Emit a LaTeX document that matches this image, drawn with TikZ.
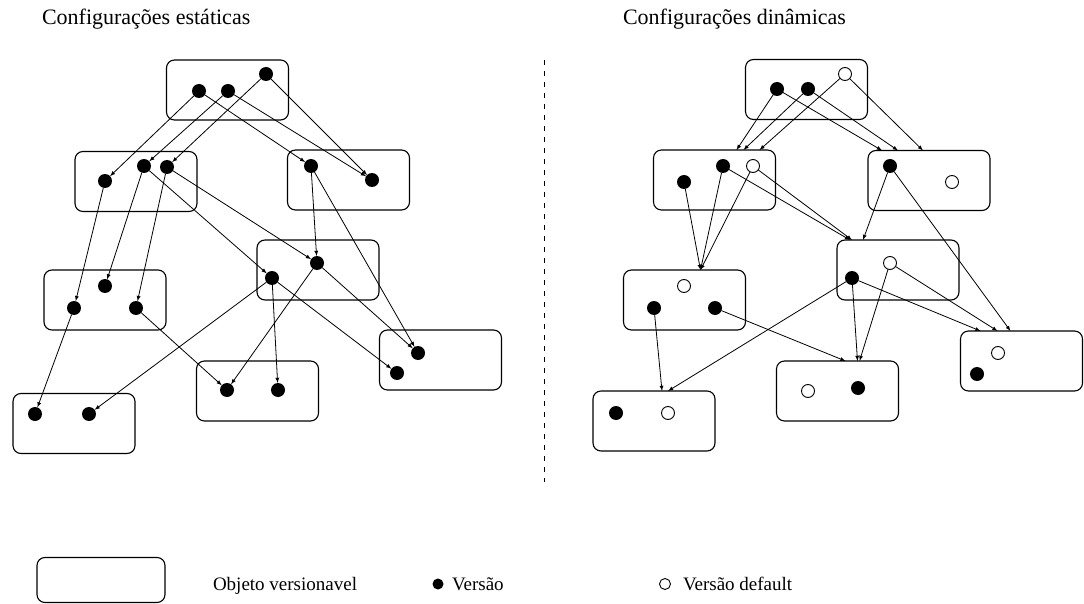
\documentclass[tikz,border=0pt]{standalone}
\usepackage{fontspec}
\setmainfont{Liberation Serif}
\begin{document}
\begin{tikzpicture}[x=1pt, y=-1pt]
\tikzset{ >=latex, inner sep=0pt, outer sep=0pt,
  obj/.style={draw, line width=1.1pt, rounded corners=8pt, minimum width=122pt, minimum height=60pt},
  ver/.style={fill=black, circle, minimum size=14pt},
  vdef/.style={draw, line width=0.9pt, fill=white, circle, minimum size=13pt},
  lnk/.style={->, line width=0.8pt},
  txt/.style={font=\fontsize{19}{23}\selectfont, anchor=base west},
  ttl/.style={font=\fontsize{22}{26}\selectfont, anchor=base west},
}
\useasboundingbox (0,0) rectangle (1084,604);

\node [ttl] (tEst) at (42,25)  {Configurações estáticas};
\node [ttl] (tDin) at (623,25) {Configurações dinâmicas};

\draw [line width=0.8pt, dash pattern=on 5pt off 6pt] (544,60) -- (544,482);

% estaticas
\node [obj] (L1) at (227.5,90)  {};
\node [obj] (L2) at (136,181.5) {};
\node [obj] (L3) at (348.5,180) {};
\node [obj] (L4) at (318,270)   {};
\node [obj] (L5) at (105,300)   {};
\node [obj] (L6) at (74,423.5)  {};
\node [obj] (L7) at (257.5,391) {};
\node [obj] (L8) at (440.5,360) {};

\node [ver] (L1a) at (199,91)  {};
\node [ver] (L1b) at (228,91)  {};
\node [ver] (L1c) at (266,74)  {};
\node [ver] (L2a) at (105,181) {};
\node [ver] (L2b) at (144,166) {};
\node [ver] (L2c) at (167,167) {};
\node [ver] (L3a) at (311,166) {};
\node [ver] (L3b) at (372,180) {};
\node [ver] (L4a) at (272,278) {};
\node [ver] (L4b) at (317,263) {};
\node [ver] (L5a) at (74,308)  {};
\node [ver] (L5b) at (105,286) {};
\node [ver] (L5c) at (136,308) {};
\node [ver] (L6a) at (35,414)  {};
\node [ver] (L6b) at (89,414)  {};
\node [ver] (L7a) at (227,390) {};
\node [ver] (L7b) at (278,390) {};
\node [ver] (L8a) at (418,353) {};
\node [ver] (L8b) at (397,373) {};

\draw [lnk] (L1a) -- (L2a);
\draw [lnk] (L1a) -- (L3a);
\draw [lnk] (L1b) -- (L2b);
\draw [lnk] (L1b) -- (L3b);
\draw [lnk] (L1c) -- (L2c);
\draw [lnk] (L1c) -- (L3b);
\draw [lnk] (L2a) -- (L5a);
\draw [lnk] (L2b) -- (L5b);
\draw [lnk] (L2b) -- (L4a);
\draw [lnk] (L2c) -- (L5c);
\draw [lnk] (L2c) -- (L4b);
\draw [lnk] (L3a) -- (L4b);
\draw [lnk] (L3a) -- (L8a);
\draw [lnk] (L4a) -- (L7b);
\draw [lnk] (L4a) -- (L8b);
\draw [lnk] (L4a) -- (L6b);
\draw [lnk] (L4b) -- (L7a);
\draw [lnk] (L4b) -- (L8a);
\draw [lnk] (L5a) -- (L6a);
\draw [lnk] (L5c) -- (L7a);

% dinamicas
\node [obj] (R1) at (806.5,89.5) {};
\node [obj] (R2) at (714.5,180)  {};
\node [obj] (R3) at (929,180.5)  {};
\node [obj] (R4) at (898,270)    {};
\node [obj] (R5) at (684.5,300)  {};
\node [obj] (R6) at (654,421)    {};
\node [obj] (R7) at (837.5,391)  {};
\node [obj] (R8) at (1021.5,361) {};

\node [ver]  (R1a) at (777,89)  {};
\node [ver]  (R1b) at (808,89)  {};
\node [vdef] (R1c) at (845,74)  {};
\node [ver]  (R2a) at (684,182) {};
\node [ver]  (R2b) at (723,166) {};
\node [vdef] (R2c) at (753,166) {};
\node [ver]  (R3a) at (890,166) {};
\node [vdef] (R3b) at (952,182) {};
\node [ver]  (R4a) at (852,278) {};
\node [vdef] (R4b) at (890,263) {};
\node [ver]  (R5a) at (654,308) {};
\node [vdef] (R5b) at (684,286) {};
\node [ver]  (R5c) at (715,308) {};
\node [ver]  (R6a) at (616,413) {};
\node [vdef] (R6b) at (668,413) {};
\node [vdef] (R7a) at (808,391) {};
\node [ver]  (R7b) at (858,388) {};
\node [vdef] (R8a) at (998,353) {};
\node [ver]  (R8b) at (977,374) {};

\draw [lnk] (R1a) -- ([xshift=22pt]R2.north);
\draw [lnk] (R1b) -- ([xshift=29pt]R2.north);
\draw [lnk] (R1c) -- ([xshift=45pt]R2.north);
\draw [lnk] (R1a) -- ([xshift=-47pt]R3.north);
\draw [lnk] (R1b) -- ([xshift=-31pt]R3.north);
\draw [lnk] (R1c) -- ([xshift=-6pt]R3.north);
\draw [lnk] (R2a) -- ([xshift=16pt]R5.north);
\draw [lnk] (R2b) -- ([xshift=16pt]R5.north);
\draw [lnk] (R2c) -- ([xshift=16pt]R5.north);
\draw [lnk] (R2b) -- ([xshift=-48pt]R4.north);
\draw [lnk] (R2c) -- ([xshift=-46pt]R4.north);
\draw [lnk] (R3a) -- ([xshift=-35pt]R4.north);
\draw [lnk] (R3a) -- ([xshift=-11pt]R8.north);
\draw [lnk] (R4a) -- ([xshift=-41pt]R8.north);
\draw [lnk] (R4b) -- ([xshift=-24pt]R8.north);
\draw [lnk] (R4a) -- ([xshift=20pt]R7.north);
\draw [lnk] (R4b) -- ([xshift=22pt]R7.north);
\draw [lnk] (R5c) -- ([xshift=8pt]R7.north);
\draw [lnk] (R4a) -- ([xshift=14pt]R6.north);
\draw [lnk] (R5a) -- ([xshift=8pt]R6.north);

% legenda
\node [obj, minimum width=128pt, minimum height=45pt] (kObj) at (101,580) {};
\node [txt] (tObj) at (213,590) {Objeto versionavel};
\node [ver, minimum size=11pt]  (kVer) at (438,584) {};
\node [txt] (tVer) at (452,590) {Versão};
\node [vdef, minimum size=11pt] (kDef) at (665,584) {};
\node [txt] (tDef) at (683,590) {Versão default};

\end{tikzpicture}
\end{document}
